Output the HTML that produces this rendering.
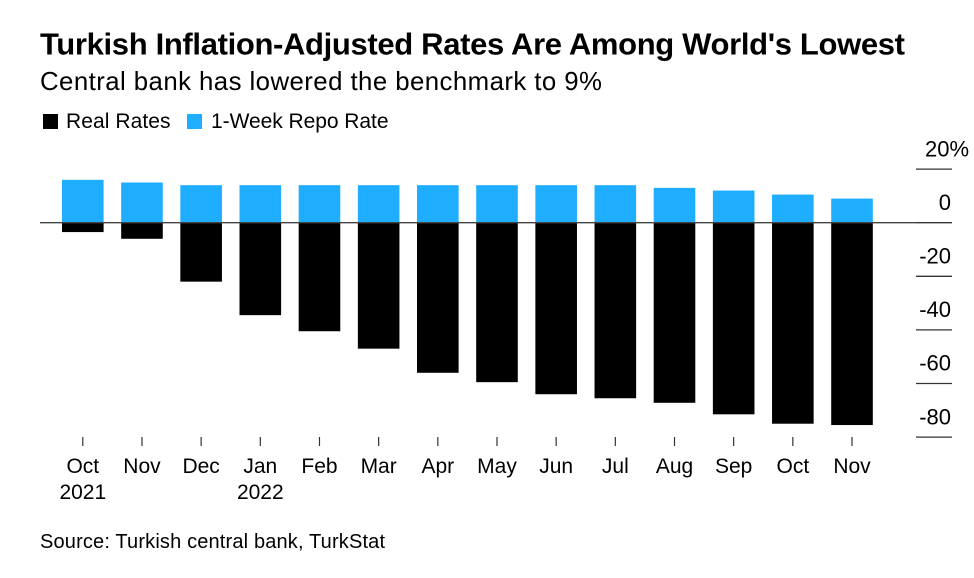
<!DOCTYPE html>
<html>
<head>
<meta charset="utf-8">
<title>Turkish Inflation-Adjusted Rates</title>
<style>
html,body{margin:0;padding:0;background:#fff;width:974px;height:578px;overflow:hidden}
svg{display:block;font-family:"Liberation Sans",sans-serif}
text{fill:#000}
</style>
</head>
<body>
<svg id="chart" width="974" height="578" viewBox="0 0 974 578" xmlns="http://www.w3.org/2000/svg">
<text x="40" y="54.5" font-size="31" font-weight="700" textLength="865" lengthAdjust="spacing">Turkish Inflation-Adjusted Rates Are Among World's Lowest</text>
<text x="40" y="90" font-size="25.8" textLength="562" lengthAdjust="spacing">Central bank has lowered the benchmark to 9%</text>
<rect x="43" y="114" width="15" height="15" fill="#000"></rect>
<text x="66" y="128" font-size="21" textLength="104.5" lengthAdjust="spacing">Real Rates</text>
<rect x="187" y="114" width="15" height="15" fill="#1fadff"></rect>
<text x="211" y="128" font-size="21" textLength="177.5" lengthAdjust="spacing">1-Week Repo Rate</text>
<g id="plot"></g>
<text x="40" y="548" font-size="20" textLength="345" lengthAdjust="spacing">Source: Turkish central bank, TurkStat</text>
</svg>
<script>
var months = ["Oct","Nov","Dec","Jan","Feb","Mar","Apr","May","Jun","Jul","Aug","Sep","Oct","Nov"];
var years = ["2021","","","2022","","","","","","","","","",""];
var realRates = [-3.5,-6,-22,-34.5,-40.5,-47,-56,-59.5,-64,-65.5,-67.2,-71.5,-75,-75.5];
var repoRate = [16,15,14,14,14,14,14,14,14,14,13,12,10.5,9];
var yTicks = [20,0,-20,-40,-60,-80];

var plot = document.getElementById('plot');
var NS = 'http://www.w3.org/2000/svg';
function y(v){ return 222.7 - v * 2.68; }
function x(i){ return 82.8 + i * 59.17; }
function make(tag, attrs, parent){
  var el = document.createElementNS(NS, tag);
  for (var k in attrs) el.setAttribute(k, attrs[k]);
  (parent || plot).appendChild(el);
  return el;
}
var barW = 41.6;

months.forEach(function(m, i){
  var top = y(repoRate[i]);
  var blue = make('rect', {x: x(i) - barW/2, y: top, width: barW, height: y(0) - top, fill: '#1fadff'});
  
  
  var bottom = y(realRates[i]);
  var black = make('rect', {x: x(i) - barW/2, y: y(0), width: barW, height: bottom - y(0), fill: '#000'});
  
  
  var tick = make('line', {x1: x(i), x2: x(i), y1: 437, y2: 446, stroke: '#333', 'stroke-width': 1.2});
  
  
  var label = make('text', {x: x(i), y: 473, 'font-size': 21, 'text-anchor': 'middle'});
  label.textContent = m;
  
  
  if (years[i]) {
    var yr = make('text', {x: x(i), y: 499, 'font-size': 21, 'text-anchor': 'middle'});
    yr.textContent = years[i];
    
    
  }
});

var zero = make('line', {x1: 40, x2: 916, y1: y(0), y2: y(0), stroke: '#444', 'stroke-width': 1.3});



yTicks.forEach(function(t){
  var gl = make('line', {x1: 916, x2: 952, y1: y(t), y2: y(t), stroke: '#333', 'stroke-width': 1.3});
  
  
  var lab = make('text', {x: 951, y: y(t) - 12.8, 'font-size': 22, 'text-anchor': 'end'});
  lab.textContent = t;
  if (t === 20) {
    lab.setAttribute('x', 925);
    lab.setAttribute('text-anchor', 'start');
    lab.textContent = t + '%';
  }
  
  
});
</script>
</body>
</html>
